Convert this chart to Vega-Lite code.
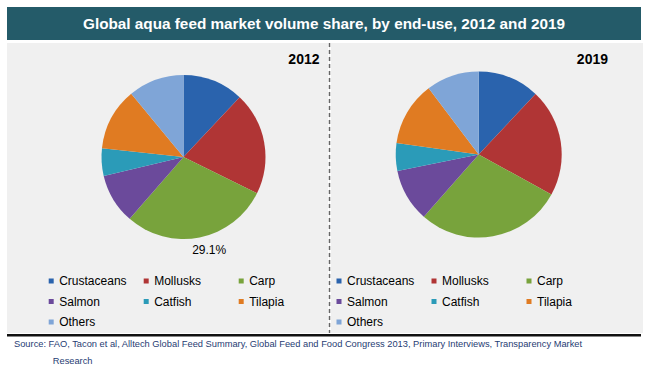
{
  "$schema": "https://vega.github.io/schema/vega-lite/v6.json",
  "background": "white",
  "padding": {"left": 7, "top": 7, "right": 0, "bottom": 0},
  "config": {"view": {"stroke": null}, "font": "Liberation Sans", "concat": {"spacing": 0}},
  "datasets": {
    "head": [{"t": "Global aqua feed market volume share, by end-use, 2012 and 2019"}],
    "y2012": [{"year": "2012"}],
    "y2019": [{"year": "2019"}],
    "none": [],
    "d2012": [
      {"name": "Crustaceans", "share": 0.12, "k": 1},
      {"name": "Mollusks", "share": 0.203, "k": 2},
      {"name": "Carp", "share": 0.291, "k": 3},
      {"name": "Salmon", "share": 0.099, "k": 4},
      {"name": "Catfish", "share": 0.054, "k": 5},
      {"name": "Tilapia", "share": 0.123, "k": 6},
      {"name": "Others", "share": 0.11, "k": 7}
    ],
    "d2019": [
      {"name": "Crustaceans", "share": 0.12, "k": 1},
      {"name": "Mollusks", "share": 0.21, "k": 2},
      {"name": "Carp", "share": 0.285, "k": 3},
      {"name": "Salmon", "share": 0.103, "k": 4},
      {"name": "Catfish", "share": 0.054, "k": 5},
      {"name": "Tilapia", "share": 0.125, "k": 6},
      {"name": "Others", "share": 0.103, "k": 7}
    ]
  },
  "title": {
    "text": ["Source: FAO, Tacon et al, Alltech Global Feed Summary, Global Feed and Food Congress 2013, Primary Interviews, Transparency Market", "\u200b\u00a0\u00a0\u00a0\u00a0\u00a0\u00a0\u00a0\u00a0\u00a0\u00a0\u00a0\u00a0\u00a0\u00a0\u00a0Research"],
    "orient": "bottom", "anchor": "start", "frame": "bounds", "fontSize": 9.3, "fontWeight": "normal",
    "color": "#1f3c73", "offset": 3, "lineHeight": 17, "dx": 7
  },
  "spacing": 2,
  "resolve": {"scale": {"color": "independent"}, "legend": {"color": "independent"}},
  "vconcat": [
    {
      "width": 634, "height": 33,
      "view": {"fill": "#245b69", "stroke": null},
      "data": {"name": "head"},
      "mark": {"type": "text", "color": "white", "fontSize": 15.3, "fontWeight": "bold", "font": "Liberation Sans"},
      "encoding": {"text": {"field": "t", "type": "nominal"}}
    },
    {
      "spacing": 0,
      "resolve": {"scale": {"color": "independent"}, "legend": {"color": "independent"}},
      "vconcat": [
        {
          "spacing": 0,
          "resolve": {"scale": {"color": "independent"}, "legend": {"color": "independent"}},
          "hconcat": [
            {
              "spacing": 0,
              "resolve": {"scale": {"color": "independent"}, "legend": {"color": "independent"}},
              "vconcat": [
                {
                  "width": 321, "height": 228,
                  "view": {"fill": "#f0f0f0", "stroke": null},
                  "layer": [
                    {
                      "data": {"name": "d2012"},
                      "mark": {"type": "arc", "radius": 82, "xOffset": 16, "stroke": null},
                      "encoding": {
                        "theta": {"field": "share", "type": "quantitative", "stack": true},
                        "order": {"field": "k", "type": "quantitative"},
                        "color": {"field": "name", "type": "nominal",
                          "scale": {"domain": ["Crustaceans", "Mollusks", "Carp", "Salmon", "Catfish", "Tilapia", "Others"],
                                    "range": ["#2a63ad", "#b03535", "#78a33c", "#6b4a9b", "#2b9bb8", "#e07b22", "#7fa5d7"]},
                          "legend": null}
                      }
                    },
                    {
                      "data": {"name": "d2012"},
                      "mark": {"type": "text", "radius": 95, "xOffset": 16, "dx": 7, "fontSize": 12, "font": "Liberation Sans", "color": "#000000"},
                      "encoding": {
                        "theta": {"field": "share", "type": "quantitative", "stack": true},
                        "order": {"field": "k", "type": "quantitative"},
                        "text": {"condition": {"test": "datum.name === 'Carp'", "field": "share", "type": "quantitative", "format": ".1%"}, "value": ""}
                      }
                    },
                    {
                      "data": {"name": "y2012"},
                      "mark": {"type": "text", "align": "right", "baseline": "alphabetic", "dx": 152, "dy": -93, "fontSize": 14, "fontWeight": "bold", "font": "Liberation Sans", "color": "#000000"},
                      "encoding": {"text": {"field": "year", "type": "nominal"}}
                    }
                  ]
                },
                {
                  "width": 321, "height": 62,
                  "view": {"fill": "#f0f0f0", "stroke": null},
                  "data": {"name": "d2012"},
                  "mark": {"type": "square", "opacity": 0},
                  "encoding": {
                    "color": {"field": "name", "type": "nominal",
                      "scale": {"domain": ["Crustaceans", "Mollusks", "Carp", "Salmon", "Catfish", "Tilapia", "Others"],
                                "range": ["#2a63ad", "#b03535", "#78a33c", "#6b4a9b", "#2b9bb8", "#e07b22", "#7fa5d7"]},
                      "legend": {"orient": "none", "legendX": 38.2, "legendY": 4, "offset": 0, "direction": "horizontal", "columns": 3, "gridAlign": "all", "columnPadding": 13, "rowPadding": 8.5,
                        "symbolType": "square", "symbolSize": 25, "symbolOpacity": 1, "symbolStrokeWidth": 0, "labelFontSize": 12, "labelFont": "Liberation Sans", "labelColor": "#000000", "labelOffset": 2, "title": null, "padding": 0}}
                  }
                }
              ]
            },
            {
              "width": 1, "height": 290,
              "view": {"fill": "#f0f0f0", "stroke": null},
              "data": {"values": [{"edge": 0.5}]},
              "mark": {"type": "rule", "color": "#666666", "strokeWidth": 1.5, "strokeDash": [4, 3]},
              "encoding": {
                "x": {"field": "edge", "type": "quantitative", "scale": {"domain": [0, 1]}, "axis": null}
              }
            },
            {
              "spacing": 0,
              "resolve": {"scale": {"color": "independent"}, "legend": {"color": "independent"}},
              "vconcat": [
                {
                  "width": 312, "height": 223,
                  "view": {"fill": "#f0f0f0", "stroke": null},
                  "layer": [
                    {
                      "data": {"name": "d2019"},
                      "mark": {"type": "arc", "radius": 83, "xOffset": -8.3, "stroke": null},
                      "encoding": {
                        "theta": {"field": "share", "type": "quantitative", "stack": true},
                        "order": {"field": "k", "type": "quantitative"},
                        "color": {"field": "name", "type": "nominal",
                          "scale": {"domain": ["Crustaceans", "Mollusks", "Carp", "Salmon", "Catfish", "Tilapia", "Others"],
                                    "range": ["#2a63ad", "#b03535", "#78a33c", "#6b4a9b", "#2b9bb8", "#e07b22", "#7fa5d7"]},
                          "legend": null}
                      }
                    },
                    {
                      "data": {"name": "y2019"},
                      "mark": {"type": "text", "align": "right", "baseline": "alphabetic", "dx": 121, "dy": -90.5, "fontSize": 14, "fontWeight": "bold", "font": "Liberation Sans", "color": "#000000"},
                      "encoding": {"text": {"field": "year", "type": "nominal"}}
                    }
                  ]
                },
                {
                  "width": 312, "height": 67,
                  "view": {"fill": "#f0f0f0", "stroke": null},
                  "data": {"name": "d2019"},
                  "mark": {"type": "square", "opacity": 0},
                  "encoding": {
                    "color": {"field": "name", "type": "nominal",
                      "scale": {"domain": ["Crustaceans", "Mollusks", "Carp", "Salmon", "Catfish", "Tilapia", "Others"],
                                "range": ["#2a63ad", "#b03535", "#78a33c", "#6b4a9b", "#2b9bb8", "#e07b22", "#7fa5d7"]},
                      "legend": {"orient": "none", "legendX": 2, "legendY": 9, "offset": 0, "direction": "horizontal", "columns": 3, "gridAlign": "all", "columnPadding": 13, "rowPadding": 8.5,
                        "symbolType": "square", "symbolSize": 25, "symbolOpacity": 1, "symbolStrokeWidth": 0, "labelFontSize": 12, "labelFont": "Liberation Sans", "labelColor": "#000000", "labelOffset": 2, "title": null, "padding": 0}}
                  }
                }
              ]
            }
          ]
        },
        {
          "width": 634, "height": 2.5,
          "view": {"fill": "#111111", "stroke": null},
          "data": {"name": "none"},
          "mark": {"type": "text"},
          "encoding": {}
        }
      ]
    }
  ]
}
